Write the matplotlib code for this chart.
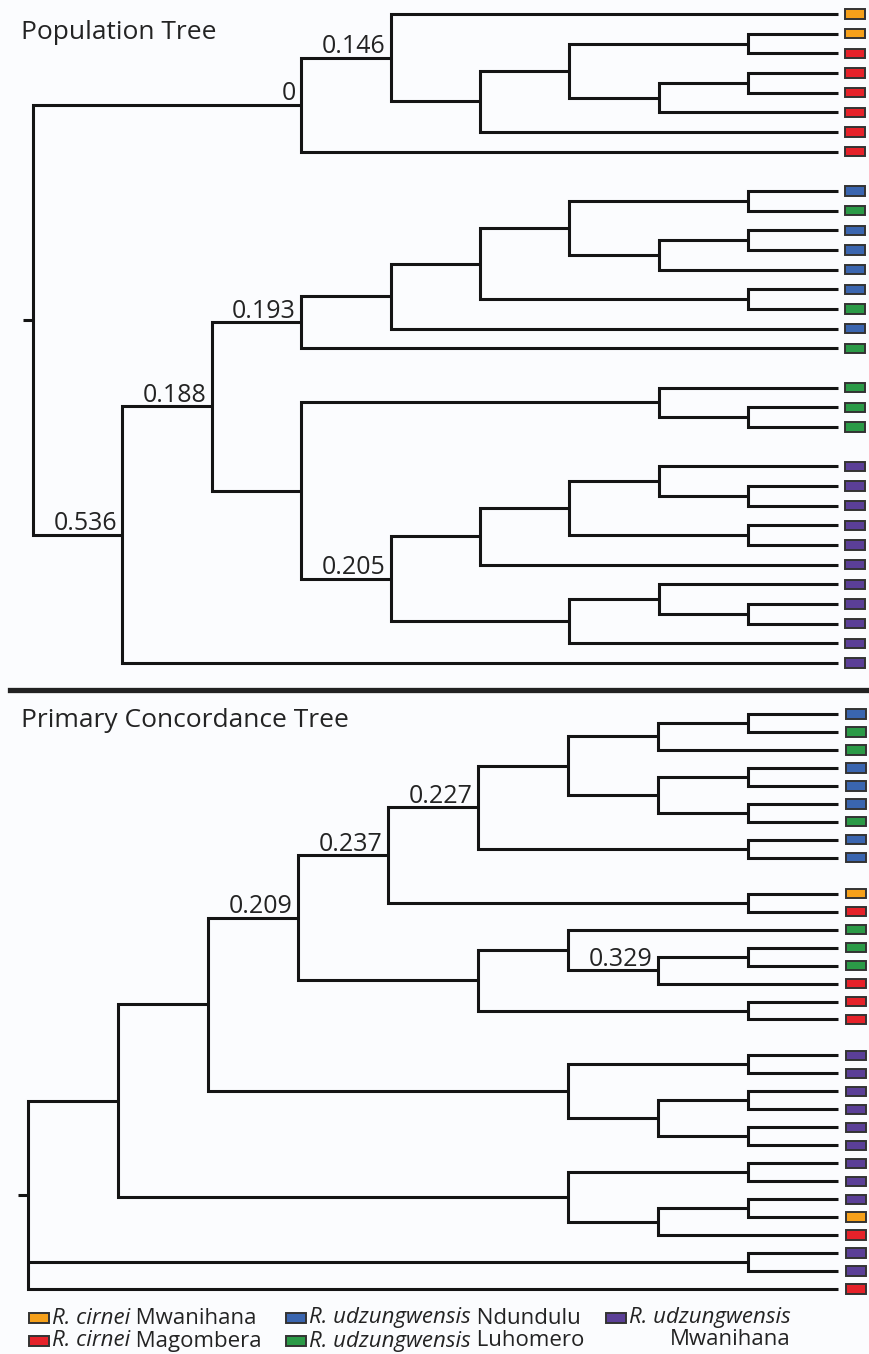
import matplotlib
matplotlib.use("Agg")
import matplotlib.pyplot as plt
from matplotlib.patches import Rectangle
from matplotlib.lines import Line2D

# ---------------- data ----------------
population_codes = ["O", "R", "B", "G", "P"]
population_species = ["R. cirnei", "R. cirnei", "R. udzungwensis", "R. udzungwensis", "R. udzungwensis"]
population_sites = ["Mwanihana", "Magombera", "Ndundulu", "Luhomero", "Mwanihana"]
population_colors = ["#F6A01A", "#E6222A", "#3A65AF", "#2B9A47", "#5B3F97"]

top_title = "Population Tree"
# tip populations, top to bottom; groups are separated by a blank row
top_tip_groups = ["OORRRRRR", "BGBBBBGBG", "GGG", "PPPPPPPPPPP"]
# topology: internal node label = "<level>[_<support>]", tips = t<index>
top_newick = (
    "(((t0,(((t1,t2)8,((t3,t4)8,t5)7)6,t6)5)4_0.146,t7)3_0,"
    "(((((((t8,t9)8,((t10,t11)8,t12)7)6,(t13,t14)8)5,t15)4,t16)3_0.193,"
    "((t17,(t18,t19)8)7,((((t20,(t21,t22)8)7,(t23,t24)8)6,t25)5,"
    "((t26,(t27,t28)8)7,t29)6)4_0.205)3)2_0.188,t30)1_0.536)0"
)

bottom_title = "Primary Concordance Tree"
bottom_tip_groups = ["BGGBBBGBB", "ORGGGRRR", "PPPPPPPPPORPPR"]
bottom_newick = (
    "(((((((((t0,t1)8,t2)7,((t3,t4)8,(t5,t6)8)7)6,(t7,t8)8)5_0.227,(t9,t10)8)4_0.237,"
    "((t11,((t12,t13)8,t14)7_0.329)6,(t15,t16)8)5)3_0.209,"
    "((t17,t18)8,((t19,t20)8,(t21,t22)8)7)6)2,"
    "((t23,t24)8,((t25,t26)8,t27)7)6)1,(t28,t29)8,t30)0"
)
tip_level = 9

# ---------------- helpers ----------------
def parse_newick(s):
    pos = 0

    def node():
        nonlocal pos
        if s[pos] == "(":
            pos += 1
            children = [node()]
            while s[pos] == ",":
                pos += 1
                children.append(node())
            pos += 1  # ')'
            start = pos
            while pos < len(s) and s[pos] not in ",)":
                pos += 1
            level, _, support = s[start:pos].partition("_")
            return {"children": children, "level": float(level), "support": support}
        start = pos
        while pos < len(s) and s[pos] not in ",)":
            pos += 1
        return {"tip": int(s[start:pos][1:])}

    return node()


def tip_slots(groups):
    slots, codes, k = [], [], 0
    for g in groups:
        for c in g:
            slots.append(k)
            codes.append(c)
            k += 1
        k += 1
    return slots, codes


def layout(n, slots):
    if "tip" in n:
        n["x"] = tip_level
        n["y"] = slots[n["tip"]]
    else:
        for c in n["children"]:
            layout(c, slots)
        ys = [c["y"] for c in n["children"]]
        n["x"] = n["level"]
        n["y"] = (min(ys) + max(ys)) / 2.0


LINE_C = "#141414"
LW = 2.2
TXT_C = "#232323"
FONT = ["Open Sans", "DejaVu Sans"]


def draw_tree(ax, n):
    if "tip" in n:
        return
    ch = sorted(n["children"], key=lambda c: c["y"])
    top, bot = ch[0], ch[-1]
    ax.plot([top["x"], n["x"], n["x"], bot["x"]],
            [top["y"], top["y"], bot["y"], bot["y"]],
            color=LINE_C, lw=LW, solid_joinstyle="miter", solid_capstyle="butt", zorder=2)
    for c in ch[1:-1]:
        ax.plot([n["x"], c["x"]], [c["y"], c["y"]], color=LINE_C, lw=LW,
                solid_capstyle="butt", zorder=2)
    for c in ch:
        draw_tree(ax, c)
        if "children" in c and c["support"]:
            ax.annotate(c["support"], xy=(c["x"], c["y"]), xytext=(-3.8, 3.2),
                        textcoords="offset points", ha="right", va="baseline",
                        fontsize=18, color=TXT_C, family=FONT)


def draw_panel(ax, newick, groups, box_h):
    tree = parse_newick(newick)
    slots, codes = tip_slots(groups)
    layout(tree, slots)
    draw_tree(ax, tree)
    # root stem
    ax.plot([tree["x"] - 0.11, tree["x"]], [tree["y"], tree["y"]], color=LINE_C, lw=LW,
            solid_capstyle="butt")
    for s, c in zip(slots, codes):
        col = population_colors[population_codes.index(c)]
        ax.add_patch(Rectangle((tip_level + 0.085, s - box_h / 2), 0.225, box_h,
                               facecolor=col, edgecolor="#333333", lw=1.4, zorder=3))


# ---------------- figure ----------------
W, H = 869, 1354
BG = "#fbfcfe"
fig = plt.figure(figsize=(W / 100, H / 100), dpi=100, facecolor=BG)

def px_axes(top_px, bot_px):
    return fig.add_axes([0, 1 - bot_px / H, 1, (bot_px - top_px) / H])

# top panel: level -> pixel x = 33 + 89.4 * level ; slot -> y = 14 + 19.67 * slot
ax1 = px_axes(0, 680)
ax1.set_xlim(-33 / 89.4, (W - 33) / 89.4)
ax1.set_ylim((680 - 14) / 19.67, (0 - 14) / 19.67)
ax1.axis("off")
draw_panel(ax1, top_newick, top_tip_groups, 0.47)

# bottom panel: level -> pixel x = 28 + 90 * level ; slot -> y = 714 + 17.97 * slot
ax2 = px_axes(695, 1300)
ax2.set_xlim(-28 / 90.0, (W - 28) / 90.0)
ax2.set_ylim((1300 - 714) / 17.97, (695 - 714) / 17.97)
ax2.axis("off")
draw_panel(ax2, bottom_newick, bottom_tip_groups, 0.52)

# separator
fig.add_artist(Line2D([10 / W, 1], [1 - 690 / H] * 2, lw=3.8, color="#222222"))

# titles
fig.text(21 / W, 1 - 39 / H, top_title, ha="left", va="baseline", fontsize=19,
         color=TXT_C, family=FONT)
fig.text(21 / W, 1 - 727 / H, bottom_title, ha="left", va="baseline", fontsize=19,
         color=TXT_C, family=FONT)

# legend
axl = px_axes(1300, H)
axl.set_xlim(0, W)
axl.set_ylim(H, 1300)
axl.axis("off")
col_x = [29, 286, 606]
row_y = [1317.5, 1340.5]
LEG_FS = 16
for i, code in enumerate(population_codes):
    cx = col_x[i // 2]
    ry = row_y[i % 2]
    col = population_colors[i]
    axl.add_patch(Rectangle((cx, ry - 5), 20, 10, facecolor=col, edgecolor="#333333", lw=1.4))
    t1 = axl.text(cx + 23, ry + 6, population_species[i], style="italic", ha="left",
                  va="baseline", fontsize=LEG_FS, color=TXT_C, family=FONT)
    if i == 4:
        axl.annotate(population_sites[i], xy=(1, 0), xycoords=t1, ha="right", va="top",
                     xytext=(0, -0.3), textcoords="offset points",
                     fontsize=LEG_FS, color=TXT_C, family=FONT)
    else:
        axl.annotate(" " + population_sites[i], xy=(1, 0), xycoords=t1, ha="left",
                     va="bottom", fontsize=LEG_FS, color=TXT_C, family=FONT)

fig.savefig("out.png", dpi=100, facecolor=BG)
